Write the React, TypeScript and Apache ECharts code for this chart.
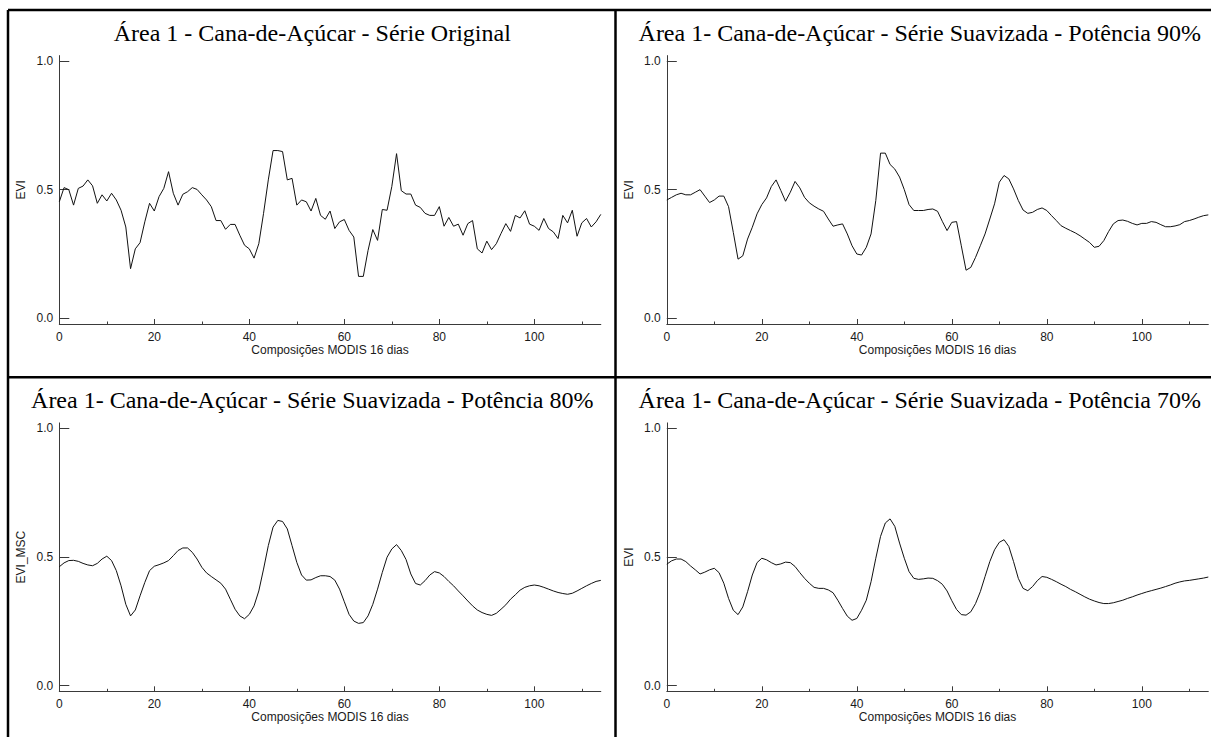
import React, { useEffect, useRef } from "react";
import * as echarts from "echarts";

// ---------------- data ----------------
const titles = [
  "Área 1 - Cana-de-Açúcar - Série Original",
  "Área 1- Cana-de-Açúcar - Série Suavizada - Potência 90%",
  "Área 1- Cana-de-Açúcar - Série Suavizada - Potência 80%",
  "Área 1- Cana-de-Açúcar - Série Suavizada - Potência 70%",
];
const yNames = ["EVI", "EVI", "EVI_MSC", "EVI"];
const xName = "Composições MODIS 16 dias";
const xMajorTicks = [0, 20, 40, 60, 80, 100];
const xMinorTicks = [10, 30, 50, 70, 90, 110];
const yTicks = [0, 0.5, 1.0];

const serieOriginal = [
  0.453, 0.508, 0.5, 0.44, 0.505, 0.514, 0.538, 0.515, 0.447, 0.48,
  0.456, 0.486, 0.46, 0.42, 0.355, 0.193, 0.27, 0.294, 0.375, 0.447,
  0.417, 0.473, 0.505, 0.57, 0.486, 0.44, 0.482, 0.492, 0.508, 0.501,
  0.48, 0.46, 0.434, 0.38, 0.38, 0.346, 0.365, 0.365, 0.323, 0.284,
  0.27, 0.234, 0.29, 0.408, 0.538, 0.652, 0.652, 0.648, 0.538, 0.544,
  0.44, 0.46, 0.453, 0.417, 0.466, 0.4, 0.385, 0.417, 0.349, 0.375,
  0.384, 0.342, 0.316, 0.163, 0.163, 0.264, 0.345, 0.303, 0.423, 0.42,
  0.512, 0.64, 0.496, 0.483, 0.483, 0.44, 0.431, 0.408, 0.4, 0.4,
  0.434, 0.358, 0.392, 0.358, 0.366, 0.323, 0.368, 0.38, 0.27, 0.254,
  0.3, 0.267, 0.29, 0.33, 0.368, 0.338, 0.4, 0.39, 0.418, 0.366,
  0.358, 0.342, 0.388, 0.349, 0.336, 0.31, 0.4, 0.371, 0.42, 0.319,
  0.371, 0.388, 0.355, 0.375, 0.404,
];

const serie90 = [
  0.46, 0.47, 0.48, 0.486, 0.48, 0.48, 0.49, 0.5, 0.475, 0.45,
  0.46, 0.475, 0.475, 0.434, 0.334, 0.23, 0.243, 0.308, 0.354, 0.406,
  0.442, 0.468, 0.512, 0.538, 0.497, 0.455, 0.49, 0.532, 0.507, 0.47,
  0.449, 0.436, 0.425, 0.416, 0.386, 0.358, 0.363, 0.367, 0.328, 0.282,
  0.25, 0.246, 0.276, 0.328, 0.458, 0.642, 0.642, 0.598, 0.58, 0.549,
  0.5, 0.442, 0.419, 0.419, 0.419, 0.423, 0.425, 0.416, 0.377, 0.341,
  0.373, 0.376, 0.282, 0.187, 0.198, 0.237, 0.282, 0.328, 0.386, 0.445,
  0.529, 0.555, 0.542, 0.503, 0.458, 0.421, 0.408, 0.412, 0.423, 0.429,
  0.419, 0.399, 0.38, 0.36, 0.35, 0.341, 0.332, 0.321, 0.308, 0.295,
  0.276, 0.28, 0.302, 0.337, 0.367, 0.38, 0.382, 0.377, 0.369, 0.363,
  0.369, 0.369, 0.376, 0.373, 0.364, 0.356, 0.356, 0.359, 0.364, 0.376,
  0.38, 0.386, 0.393, 0.399, 0.402,
];

const serie80 = [
  0.462, 0.477, 0.486, 0.487, 0.483, 0.475, 0.469, 0.466, 0.475, 0.492,
  0.503, 0.486, 0.447, 0.388, 0.316, 0.271, 0.294, 0.349, 0.401, 0.447,
  0.464, 0.47, 0.477, 0.486, 0.505, 0.525, 0.535, 0.535, 0.518, 0.492,
  0.46, 0.438, 0.424, 0.411, 0.398, 0.375, 0.336, 0.297, 0.271, 0.26,
  0.277, 0.31, 0.368, 0.453, 0.544, 0.616, 0.642, 0.638, 0.609, 0.544,
  0.479, 0.43, 0.41, 0.411, 0.42, 0.427, 0.427, 0.424, 0.41, 0.375,
  0.326, 0.277, 0.251, 0.242, 0.245, 0.271, 0.316, 0.375, 0.44, 0.499,
  0.531, 0.548, 0.525, 0.49, 0.434, 0.397, 0.391, 0.408, 0.43, 0.443,
  0.438, 0.424, 0.405, 0.388, 0.368, 0.349, 0.329, 0.31, 0.294, 0.284,
  0.277, 0.273, 0.281, 0.297, 0.314, 0.336, 0.353, 0.371, 0.382, 0.388,
  0.391, 0.388, 0.382, 0.375, 0.368, 0.362, 0.358, 0.355, 0.359, 0.368,
  0.378, 0.388, 0.397, 0.405, 0.409,
];

const serie70 = [
  0.472, 0.485, 0.492, 0.492, 0.482, 0.465, 0.45, 0.434, 0.441, 0.45,
  0.456, 0.439, 0.398, 0.339, 0.293, 0.276, 0.306, 0.365, 0.43, 0.478,
  0.495, 0.489, 0.478, 0.469, 0.473, 0.48, 0.478, 0.463, 0.439, 0.417,
  0.398, 0.382, 0.378, 0.378, 0.372, 0.361, 0.332, 0.3, 0.27, 0.254,
  0.261, 0.293, 0.332, 0.404, 0.495, 0.58, 0.632, 0.648, 0.619, 0.554,
  0.495, 0.443, 0.417, 0.413, 0.415, 0.418, 0.417, 0.408, 0.394, 0.368,
  0.33, 0.296, 0.276, 0.274, 0.287, 0.319, 0.365, 0.424, 0.482, 0.528,
  0.557, 0.567, 0.541, 0.482, 0.417, 0.378, 0.369, 0.385, 0.408, 0.424,
  0.421, 0.413, 0.404, 0.394, 0.385, 0.374, 0.365, 0.355, 0.345, 0.336,
  0.329, 0.323, 0.319, 0.319, 0.322, 0.327, 0.332, 0.339, 0.345, 0.352,
  0.358, 0.364, 0.369, 0.374, 0.379, 0.385, 0.391, 0.398, 0.403, 0.407,
  0.409, 0.412, 0.415, 0.418, 0.422,
];

const allSeries = [serieOriginal, serie90, serie80, serie70];

// ---------------- layout ----------------
const W = 1211;
const H = 737;
const FRAME_L = 8;
const FRAME_T = 10;
const PANEL_W = 607.5;
const PANEL_H = 367.3;
const GRID_L = 51.3; // from panel left border
const GRID_T = 45.6; // from panel top border
const GRID_W = 541.5;
const GRID_H = 268.4;

const AXIS_COLOR = "#3a3a3a";
const TEXT_COLOR = "#1a1a1a";
const SANS = "'Liberation Sans', Arial, sans-serif";
const SERIF = "'Liberation Serif', 'Times New Roman', serif";

export default function App() {
  const ref = useRef<HTMLDivElement>(null);

  useEffect(() => {
    document.body.style.margin = "0";
    if (!ref.current) return;
    const chart = echarts.init(ref.current, null, { renderer: "svg" });

    const grids: any[] = [];
    const xAxes: any[] = [];
    const yAxes: any[] = [];
    const series: any[] = [];
    const graphics: any[] = [];

    allSeries.forEach((vals, i) => {
      const col = i % 2;
      const row = Math.floor(i / 2);
      const ox = FRAME_L + col * PANEL_W;
      const oy = FRAME_T + row * PANEL_H;
      grids.push({
        left: ox + GRID_L,
        top: oy + GRID_T,
        width: GRID_W,
        height: GRID_H,
        containLabel: false,
      });
      xAxes.push({
        type: "value",
        gridIndex: i,
        position: "bottom",
        min: 0,
        max: 114,
        name: xName,
        nameLocation: "middle",
        nameGap: 18,
        nameTextStyle: { fontFamily: SANS, fontSize: 12, color: TEXT_COLOR },
        axisLine: { show: true, onZero: false, lineStyle: { color: AXIS_COLOR, width: 1 } },
        axisTick: { show: true, inside: true, length: 5, customValues: xMajorTicks, lineStyle: { color: AXIS_COLOR } },
        axisLabel: { show: true, customValues: xMajorTicks, margin: 7, fontFamily: SANS, fontSize: 12, color: TEXT_COLOR },
        splitLine: { show: false },
      });
      xAxes.push({
        type: "value",
        gridIndex: i,
        position: "bottom",
        min: 0,
        max: 114,
        axisLine: { show: false, onZero: false },
        axisTick: { show: true, inside: true, length: 2.5, customValues: xMinorTicks, lineStyle: { color: AXIS_COLOR } },
        axisLabel: { show: false },
        splitLine: { show: false },
      });
      yAxes.push({
        type: "value",
        gridIndex: i,
        position: "left",
        min: -0.022,
        max: 1.021,
        name: yNames[i],
        nameLocation: "middle",
        nameGap: 32,
        nameRotate: 90,
        nameTextStyle: { fontFamily: SANS, fontSize: 12, color: TEXT_COLOR },
        axisLine: { show: true, onZero: false, lineStyle: { color: AXIS_COLOR, width: 1 } },
        axisTick: { show: true, inside: true, length: 10, customValues: yTicks, lineStyle: { color: AXIS_COLOR } },
        axisLabel: {
          show: true,
          customValues: yTicks,
          margin: 6,
          fontFamily: SANS,
          fontSize: 12,
          color: TEXT_COLOR,
          formatter: (v: number) => v.toFixed(1),
        },
        splitLine: { show: false },
      });
      series.push({
        type: "line",
        xAxisIndex: i * 2,
        yAxisIndex: i,
        data: vals.map((v, k) => [k, v]),
        showSymbol: false,
        symbol: "none",
        silent: true,
        lineStyle: { color: "#111", width: 1 },
      });
      graphics.push({
        type: "text",
        x: ox + PANEL_W / 2 + 0.5,
        y: oy + 23,
        silent: true,
        style: {
          text: titles[i],
          fill: "#000",
          font: `24px ${SERIF}`,
          textAlign: "center",
          align: "center",
          textVerticalAlign: "middle",
          verticalAlign: "middle",
        },
      });
    });

    const frameStyle = { stroke: "#000", lineWidth: 2.5 };
    const vx = FRAME_L + PANEL_W;
    const hy = FRAME_T + PANEL_H;
    graphics.push(
      { type: "line", silent: true, shape: { x1: FRAME_L, y1: FRAME_T, x2: W, y2: FRAME_T }, style: frameStyle },
      { type: "line", silent: true, shape: { x1: FRAME_L, y1: FRAME_T, x2: FRAME_L, y2: H }, style: frameStyle },
      { type: "line", silent: true, shape: { x1: vx, y1: FRAME_T, x2: vx, y2: H }, style: frameStyle },
      { type: "line", silent: true, shape: { x1: FRAME_L, y1: hy, x2: W, y2: hy }, style: frameStyle }
    );

    chart.setOption({
      animation: false,
      backgroundColor: "#ffffff",
      grid: grids,
      xAxis: xAxes,
      yAxis: yAxes,
      series,
      graphic: graphics,
    });

    return () => chart.dispose();
  }, []);

  return <div ref={ref} style={{ width: W, height: H, background: "#fff" }} />;
}
